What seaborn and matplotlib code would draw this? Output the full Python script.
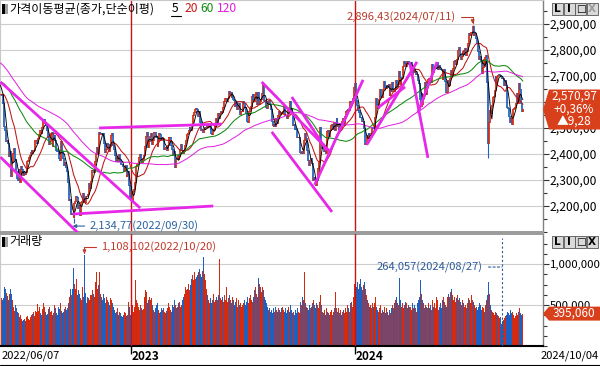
import numpy as np
import pandas as pd
import matplotlib
matplotlib.use("Agg")
import matplotlib.pyplot as plt
from matplotlib.patches import Polygon, Rectangle
from matplotlib.lines import Line2D
from matplotlib.ticker import FuncFormatter, MultipleLocator
import seaborn as sns

# ---------------- data (daily closes) ----------------
# 120 sessions before the first visible day (only feed the moving averages)
pre_close = [
    3010, 3001, 2989, 2987, 3006, 3017, 2963, 2962, 2975, 2998, 3012, 3025, 3020, 2993, 2977,
    2989, 2944, 2953, 2907, 2954, 2927, 2927, 2973, 2962, 2921, 2890, 2864, 2842, 2834, 2792, 2799, 2720, 2709, 2614, 2663,
    2705, 2757, 2750, 2745, 2768, 2771, 2747, 2704, 2676, 2729, 2676, 2744, 2743, 2705, 2743, 2706, 2719, 2648, 2676, 2699,
    2703, 2680, 2713, 2651, 2622, 2680, 2661, 2645, 2621, 2658, 2694, 2708, 2686, 2729, 2736, 2710, 2730, 2741, 2746, 2745, 2757,
    2739, 2759, 2757, 2735, 2700, 2693, 2666, 2667, 2716, 2718, 2696, 2718, 2728, 2704, 2657, 2668, 2639, 2639, 2667, 2695, 2668,
    2687, 2680, 2677, 2644, 2610, 2596, 2592, 2550, 2592, 2604, 2620, 2625, 2640, 2639, 2647, 2617, 2639, 2612, 2638, 2686, 2685,
    2658, 2670,
]
close_2022 = [
    2626, 2626, 2625, 2595, 2504, 2492, 2447, 2451, 2440, 2391, 2408, 2342, 2314, 2366, 2401, 2422, 2377, 2332,
    2305, 2300, 2341, 2292, 2334, 2350, 2340, 2317, 2328, 2322, 2330, 2370, 2375, 2386, 2393, 2404, 2415, 2403, 2409, 2415, 2451,
    2452, 2439, 2461, 2473, 2491, 2490, 2480, 2503, 2523, 2533, 2516, 2508, 2492, 2462, 2435, 2447, 2477, 2481, 2427, 2450, 2472, 2451,
    2415, 2410, 2409, 2384, 2376, 2449, 2411, 2401, 2382, 2355, 2367, 2347, 2332, 2290, 2220, 2223, 2169, 2170, 2167, 2155,
    2209, 2216, 2238, 2232, 2192, 2202, 2162, 2212, 2219, 2249, 2237, 2218, 2213, 2236, 2235, 2245, 2288, 2268, 2293,
    2335, 2337, 2329, 2348, 2371, 2399, 2424, 2402, 2483, 2474, 2480, 2478, 2477, 2442, 2419, 2405, 2418, 2441, 2437, 2408, 2433, 2472,
    2479, 2434, 2419, 2393, 2382, 2371, 2389, 2373, 2399, 2373, 2361, 2360, 2352, 2333, 2349, 2356, 2313, 2318, 2332, 2280, 2236,
]
close_2023 = [
    2225, 2219, 2256, 2264, 2289, 2350, 2351, 2360, 2365, 2386, 2399, 2379, 2368, 2380, 2395, 2428, 2468, 2484, 2450, 2425,
    2449, 2468, 2480, 2438, 2452, 2481, 2483, 2469, 2465, 2427, 2452, 2478, 2475, 2451, 2455, 2459, 2417, 2421, 2423, 2412,
    2432, 2462, 2463, 2464, 2431, 2419, 2394, 2410, 2348, 2379, 2377, 2395, 2379, 2389, 2416, 2436, 2414, 2400, 2409, 2434, 2453, 2476,
    2479, 2490, 2500, 2495, 2490, 2512, 2547, 2561, 2571, 2575, 2571, 2544, 2563, 2544, 2523, 2489, 2495, 2484, 2495, 2501,
    2500, 2508, 2501, 2510, 2512, 2496, 2479, 2475, 2491, 2494, 2515, 2537, 2517, 2557, 2537, 2554, 2559, 2564, 2558, 2577,
    2601, 2615, 2615, 2601, 2615, 2641, 2629, 2637, 2619, 2625, 2609, 2604, 2582, 2600, 2570, 2582, 2593, 2550, 2564, 2564, 2564,
    2602, 2593, 2579, 2556, 2526, 2520, 2562, 2575, 2583, 2619, 2628, 2608, 2600, 2628, 2636, 2592, 2636, 2592, 2603, 2608, 2632,
    2667, 2616, 2605, 2602, 2580, 2573, 2601, 2605, 2591, 2570, 2525, 2508, 2504, 2515, 2505, 2537, 2519, 2546, 2562, 2552, 2561, 2556,
    2563, 2584, 2582, 2548, 2547, 2536, 2574, 2572, 2601, 2574, 2559, 2508, 2514, 2508, 2496, 2495, 2463, 2465, 2465,
    2405, 2403, 2408, 2402, 2450, 2479, 2456, 2460, 2415, 2375, 2357, 2375, 2383, 2363, 2299, 2310, 2302, 2278, 2277,
    2301, 2343, 2368, 2502, 2443, 2421, 2428, 2409, 2433, 2403, 2487, 2486, 2489, 2469, 2491, 2510, 2514, 2495, 2521, 2492, 2520, 2535,
    2505, 2515, 2494, 2517, 2493, 2525, 2535, 2510, 2544, 2563, 2566, 2569, 2562, 2568, 2600, 2599, 2602, 2613, 2655,
]
close_2024 = [
    2669, 2607, 2587, 2578, 2567, 2561, 2541, 2540, 2525, 2525, 2497, 2435, 2440, 2472, 2464, 2479, 2470, 2470, 2478, 2500, 2498, 2497,
    2542, 2615, 2591, 2576, 2610, 2620, 2649, 2620, 2617, 2649, 2680, 2657, 2653, 2664, 2654, 2667, 2625, 2647, 2642,
    2674, 2649, 2641, 2647, 2681, 2660, 2666, 2718, 2693, 2666, 2685, 2690, 2738, 2754, 2748, 2737, 2757, 2755, 2745, 2747,
    2747, 2753, 2706, 2742, 2714, 2717, 2705, 2706, 2681, 2670, 2609, 2584, 2634, 2592, 2629, 2623, 2675, 2628, 2656, 2687, 2692,
    2684, 2676, 2734, 2745, 2712, 2727, 2727, 2730, 2753, 2724, 2742, 2724, 2723, 2721, 2687, 2722, 2723, 2677, 2635, 2636,
    2682, 2662, 2689, 2722, 2701, 2705, 2728, 2754, 2758, 2744, 2763, 2797, 2808, 2784, 2764, 2774, 2792, 2784, 2797,
    2804, 2780, 2794, 2824, 2862, 2857, 2867, 2867, 2891, 2857, 2860, 2864, 2843, 2824, 2795, 2763, 2774, 2758, 2710, 2731, 2765, 2738, 2770,
    2777, 2676, 2441, 2522, 2568, 2556, 2588, 2618, 2622, 2644, 2697, 2674, 2697, 2701, 2707, 2701, 2698, 2689, 2689, 2662, 2674,
    2681, 2664, 2580, 2576, 2544, 2523, 2535, 2514, 2572, 2575, 2580, 2593, 2602, 2631, 2596, 2671, 2649, 2593,
    2561.69, 2570.97,
]
# daily volume in thousands of the displayed unit
volume_k_2022 = [
    620, 580, 560, 590, 720, 760, 700, 650, 610, 560, 630, 700, 640, 560, 470, 430, 500, 460,
    460, 420, 400, 350, 380, 330, 300, 320, 330, 310, 300, 350, 370, 330, 320, 350, 380, 390, 420, 360, 430,
    420, 450, 510, 430, 480, 400, 380, 450, 520, 470, 410, 380, 420, 390, 450, 470, 410, 430, 380, 400, 500, 460,
    400, 380, 420, 470, 450, 520, 430, 400, 410, 450, 470, 440, 460, 520, 560, 600, 690, 620, 700, 950,
    760, 700, 820, 620, 680, 600, 640, 580, 560, 720, 600, 1108.102, 650, 520, 600, 580, 560, 520, 620,
    620, 680, 640, 600, 780, 900, 700, 740, 900, 720, 640, 600, 560, 640, 580, 520, 600, 560, 540, 500, 580, 620,
    560, 520, 480, 440, 400, 420, 460, 380, 420, 400, 380, 360, 350, 380, 420, 400, 360, 380, 540, 480, 380,
]
volume_k_2023 = [
    360, 460, 500, 420, 480, 800, 560, 520, 480, 440, 500, 460, 420, 440, 450, 600, 680, 660, 520, 560,
    600, 560, 580, 500, 460, 440, 420, 460, 500, 520, 440, 400, 420, 460, 440, 420, 460, 420, 400, 430,
    460, 520, 480, 440, 420, 500, 480, 520, 560, 500, 460, 480, 520, 540, 480, 500, 560, 600, 640, 700, 720, 680,
    700, 760, 680, 740, 820, 860, 800, 900, 880, 820, 840, 860, 900, 940, 880, 840, 920, 1085, 880, 800,
    760, 700, 620, 560, 520, 580, 520, 560, 640, 540, 560, 520, 600, 560, 620, 1060, 580, 560, 600, 540,
    620, 560, 720, 600, 540, 580, 620, 560, 520, 600, 560, 500, 540, 580, 520, 480, 560, 500, 520, 480, 500,
    520, 560, 500, 540, 600, 560, 520, 580, 620, 560, 540, 600, 680, 720, 640, 600, 700, 830, 760, 720, 660,
    720, 680, 600, 560, 520, 480, 440, 500, 460, 420, 440, 400, 460, 420, 480, 440, 420, 460, 500, 440, 420, 460,
    480, 440, 420, 460, 400, 440, 480, 420, 460, 500, 440, 400, 420, 380, 440, 400, 460, 420, 400,
    620, 540, 500, 600, 560, 900, 520, 480, 460, 440, 500, 460, 420, 480, 520, 560, 500, 460, 520,
    500, 460, 540, 620, 500, 460, 420, 400, 440, 380, 460, 420, 400, 380, 420, 440, 400, 380, 420, 460, 660, 460,
    420, 460, 400, 440, 380, 420, 480, 440, 400, 460, 420, 500, 460, 420, 520, 540, 480, 460, 600,
]
volume_k_2024 = [
    760, 800, 720, 780, 700, 760, 820, 720, 680, 740, 960, 780, 700, 620, 560, 520, 480, 500, 460, 520, 480, 560,
    520, 600, 480, 440, 420, 460, 500, 400, 440, 420, 480, 440, 400, 460, 420, 380, 440, 400, 460,
    500, 460, 520, 480, 560, 600, 520, 500, 830, 560, 480, 520, 460, 500, 540, 480, 520, 460, 500, 480,
    480, 440, 520, 460, 500, 460, 480, 420, 520, 560, 600, 800, 640, 560, 520, 460, 500, 480, 440, 460, 520,
    460, 500, 440, 560, 480, 520, 460, 600, 560, 500, 440, 480, 520, 460, 560, 600, 540, 500, 480, 600,
    880, 640, 600, 660, 700, 620, 560, 600, 540, 580, 620, 560, 520, 580, 540, 500, 560, 520, 480,
    500, 460, 520, 580, 600, 560, 520, 620, 560, 540, 500, 460, 480, 440, 480, 520, 460, 500, 440, 480, 460, 420, 500,
    560, 620, 780, 640, 560, 500, 440, 420, 400, 380, 420, 400, 380, 360, 340, 350, 320, 264.057, 300, 320, 340,
    360, 380, 420, 400, 380, 440, 360, 400, 420, 380, 340, 360, 400, 380, 420, 460, 400, 380,
    420, 395.06,
]

year_labels = ["2023", "2024"]
year_start_days = [143, 388]
first_date_label = "2022/06/07"
last_date_label = "2024/10/04"
price_ticks = [2200, 2300, 2400, 2500, 2600, 2700, 2800, 2900]
volume_ticks = [500000, 1000000]
ma_windows = [5, 20, 60, 120]

high_day, high_value, high_label = 517, 2896.43, "2,896,43(2024/07/11)"
low_day, low_value, low_label = 80, 2134.77, "2,134,77(2022/09/30)"
wick_day, wick_low = 534, 2386.09
maxvol_day, maxvol_label = 92, "1,108,102(2022/10/20)"
minvol_day, minvol_label = 549, "264,057(2024/08/27)"
last_tag = ["2,570,97", "+0,36%", "▲9,28"]
last_vol_tag = "395,060"

# user-drawn trend lines: (day0, price0, day1, price1)
trend_lines = [
    (0, 2677, 153, 2192),
    (0, 2388, 85, 2096),
    (79, 2169, 233, 2200),
    (108, 2500, 242, 2515),
    (286, 2677, 361, 2408),
    (297, 2485, 363, 2177),
    (319, 2619, 357, 2415),
    (344, 2281, 397, 2685),
    (401, 2435, 456, 2754),
    (413, 2577, 443, 2658),
    (448, 2754, 468, 2385),
    (457, 2558, 478, 2754),
]

# ---------------- preparation ----------------
close_all = np.array(pre_close + close_2022 + close_2023 + close_2024, dtype=float)
n_pre = len(pre_close)
closes = close_all[n_pre:]
prev = close_all[n_pre - 1:-1]
vol = np.array(volume_k_2022 + volume_k_2023 + volume_k_2024, dtype=float) * 1000
assert len(closes) == len(vol), (len(closes), len(vol))
n = len(closes)
days = np.arange(n)
up = closes >= prev

df = pd.DataFrame({"day": days, "close": closes})
for w in ma_windows:
    df[f"ma{w}"] = pd.Series(close_all).rolling(w).mean().values[n_pre:]

# ---------------- style ----------------
sns.set_theme(style="white")
plt.rcParams["font.family"] = ["Noto Sans CJK KR", "DejaVu Sans"]
plt.rcParams["axes.unicode_minus"] = False

RED = "#d42a10"
BLUE = "#1f5fbf"
MA_COLORS = ["#000000", "#c01515", "#108a10", "#e01ee0"]
MA_LW = [0.65, 0.75, 0.75, 0.7]
TREND = "#e828e8"

W, H = 600, 366
fig = plt.figure(figsize=(W / 100, H / 100), dpi=100)
fig.patch.set_facecolor("white")


def fx(x):
    return x / W


def fy(y):
    return 1 - y / H


axp = fig.add_axes([0, fy(232), fx(543), 232 / H])
axv = fig.add_axes([0, fy(346), fx(543), 112 / H])
XL = (-0.5, 594)

# ---------------- price panel ----------------
axp.set_xlim(*XL)
axp.set_ylim(2100, 2992)
for t in price_ticks:
    axp.axhline(t, color="#cdcdcd", lw=0.8, zorder=0)
for d in year_start_days:
    axp.axvline(d, color="#d01010", lw=1.0, zorder=1)

cols = np.where(up, RED, BLUE)
axp.vlines(days, np.minimum(prev, closes) - 2, np.maximum(prev, closes) + 2, colors=cols, lw=1.25, zorder=2)
axp.vlines([low_day], low_value, closes[low_day], colors=BLUE, lw=0.8, zorder=2)
axp.vlines([wick_day], wick_low, closes[wick_day], colors=BLUE, lw=0.8, zorder=2)
axp.vlines([high_day], closes[high_day], high_value, colors=RED, lw=0.8, zorder=2)

for w, c, lw in zip(ma_windows, MA_COLORS, MA_LW):
    sns.lineplot(data=df, x="day", y=f"ma{w}", ax=axp, color=c, lw=lw,
                 estimator=None, zorder=3 if w != 5 else 3.5)

for d0, p0, d1, p1 in trend_lines:
    axp.plot([d0, d1], [p0, p1], color=TREND, lw=2.0, solid_capstyle="butt", zorder=4)

axp.set_xlabel("")
axp.set_ylabel("")
axp.set_xticks([])
axp.yaxis.tick_right()
axp.set_yticks(price_ticks)
axp.yaxis.set_minor_locator(MultipleLocator(50))
# labels hidden behind the last-price tag are left blank
axp.yaxis.set_major_formatter(FuncFormatter(
    lambda v, _: "" if abs(v - closes[-1]) < 40 else f"{v:,.2f}".replace(".", ",")))
axp.tick_params(axis="y", which="major", right=True, left=False, length=4, width=0.8,
                color="#333333", pad=1, labelsize=8.7, labelcolor="black", direction="out")
axp.tick_params(axis="y", which="minor", right=True, left=False, length=3, width=0.8,
                color="#333333", direction="out")
for s in ["left", "top"]:
    axp.spines[s].set_color("#c8c8c8")
    axp.spines[s].set_linewidth(0.8)
axp.spines["right"].set_color("#808080")
axp.spines["right"].set_linewidth(1.0)
axp.spines["bottom"].set_color("#9a9a9a")
axp.spines["bottom"].set_linewidth(1.4)

axp.annotate(high_label, xy=(high_day, high_value + 4), xytext=(-12, 5), textcoords="offset points",
             ha="right", va="center", fontsize=8, color="#b83c2a",
             arrowprops=dict(arrowstyle="-|>", color="#b83c2a", lw=0.8, mutation_scale=5,
                             connectionstyle="angle,angleA=0,angleB=90,rad=0", shrinkA=1, shrinkB=0))
axp.annotate(low_label, xy=(low_day - 1, low_value - 12), xytext=(12, 0), textcoords="offset points",
             ha="left", va="center", fontsize=8, color="#2a64a0",
             arrowprops=dict(arrowstyle="-|>", color="#2a64a0", lw=0.8, mutation_scale=5,
                             shrinkA=1, shrinkB=0))

# ---------------- volume panel ----------------
axv.set_xlim(*XL)
axv.set_ylim(0, 1.366e6)
for t in volume_ticks:
    axv.axhline(t, color="#cdcdcd", lw=0.8, zorder=0)
for d in year_start_days:
    axv.axvline(d, color="#d01010", lw=1.0, zorder=3)
axv.bar(days, vol, width=1.0, color=cols, linewidth=0, zorder=2)

axv.yaxis.tick_right()
axv.set_yticks(volume_ticks)
axv.yaxis.set_minor_locator(MultipleLocator(125000))
axv.yaxis.set_major_formatter(FuncFormatter(lambda v, _: f"{int(v):,}"))
axv.tick_params(axis="y", which="major", right=True, left=False, length=4, width=0.8,
                color="#333333", pad=1, labelsize=8.2, labelcolor="black", direction="out")
axv.tick_params(axis="y", which="minor", right=True, left=False, length=3, width=0.8,
                color="#333333", direction="out")
axv.set_xticks(year_start_days)
axv.tick_params(axis="x", which="major", bottom=True, length=6, width=1.0, color="black",
                labelbottom=False, direction="out")
axv.spines["left"].set_color("#c8c8c8")
axv.spines["left"].set_linewidth(0.8)
axv.spines["top"].set_color("#9a9a9a")
axv.spines["top"].set_linewidth(1.4)
axv.spines["right"].set_color("#808080")
axv.spines["right"].set_linewidth(1.0)
axv.spines["bottom"].set_color("black")
axv.spines["bottom"].set_linewidth(1.5)

axv.annotate(maxvol_label, xy=(maxvol_day, vol[maxvol_day] + 15000), xytext=(12, 5),
             textcoords="offset points", ha="left", va="center", fontsize=8, color="#c0392b",
             arrowprops=dict(arrowstyle="-|>", color="#c0392b", lw=0.8, mutation_scale=5,
                             connectionstyle="angle,angleA=0,angleB=90,rad=0", shrinkA=1, shrinkB=0))
axv.vlines([minvol_day], 0, 1.32e6, colors="#2a5a9a", lw=0.8, linestyles=(0, (2, 2)), zorder=3)
axv.annotate(minvol_label, xy=(minvol_day, 9.63e5), xytext=(-14, 0), textcoords="offset points",
             ha="right", va="center", fontsize=8, color="#2a5a9a",
             arrowprops=dict(arrowstyle="-", color="#2a5a9a", lw=0.8, linestyle=(0, (2, 2)),
                             shrinkA=2, shrinkB=0))

# ---------------- header texts ----------------
for ytop in (4, 237):
    fig.add_artist(Rectangle((fx(2), fy(ytop + 10)), fx(4), 10 / H, transform=fig.transFigure,
                             facecolor="black", edgecolor="none"))
    fig.add_artist(Rectangle((fx(5), fy(ytop + 10)), fx(3), 10 / H, transform=fig.transFigure,
                             facecolor="#a0a0a0", edgecolor="none"))
fig.text(fx(9), fy(9), "가격이동평균(종가,단순이평)", fontsize=8.7, va="center", ha="left", color="black")
fig.text(fx(172), fy(9), "5", fontsize=8.7, va="center", ha="left", color="black")
fig.add_artist(Line2D([fx(171), fx(181)], [fy(16), fy(16)], transform=fig.transFigure, color="black", lw=0.8))
fig.text(fx(184), fy(9), "20", fontsize=8.7, va="center", ha="left", color="#c81818")
fig.text(fx(200), fy(9), "60", fontsize=8.7, va="center", ha="left", color="#108a10")
fig.text(fx(217), fy(9), "120", fontsize=8.7, va="center", ha="left", color="#e01ee0")
fig.text(fx(9), fy(242), "거래량", fontsize=8.7, va="center", ha="left", color="black")

# window buttons
for ytop in (3, 236):
    for i, g in enumerate(["L", "I", "□", "X"]):
        x0 = 552 + i * 11.5
        fig.add_artist(Rectangle((fx(x0), fy(ytop + 12)), fx(11), 12 / H, transform=fig.transFigure,
                                 facecolor="#d9d9d9", edgecolor="#555555", lw=0.6))
        gc = "#9a9a9a" if (g == "X" and ytop == 3) else "black"
        fig.text(fx(x0 + 5.5), fy(ytop + 6), g, fontsize=7.5, ha="center", va="center",
                 color=gc, fontweight="bold", family=["DejaVu Sans"])

# ---------------- value tags ----------------
fig.canvas.draw()
xr = axp.transAxes.transform((1, 0))[0]
ty = axp.transData.transform((0, closes[-1]))[1]
hh = 20
poly = Polygon([(xr, ty), (xr + 6, ty + hh), (W, ty + hh), (W, ty - hh), (xr + 6, ty - hh)],
               closed=True, transform=None, facecolor="#d8401c", edgecolor="none", zorder=10)
fig.add_artist(poly)
fig.text(fx(574), ty / H, "\n".join(last_tag), fontsize=8.5, color="white", ha="center", va="center",
         linespacing=1.0, zorder=11)

tyv = axv.transData.transform((0, vol[-1]))[1]
hv = 7
polyv = Polygon([(xr, tyv), (xr + 6, tyv + hv), (W, tyv + hv), (W, tyv - hv), (xr + 6, tyv - hv)],
                closed=True, transform=None, facecolor="#d8401c", edgecolor="none", zorder=10)
fig.add_artist(polyv)
fig.text(fx(574), tyv / H, last_vol_tag, fontsize=8.5, color="white", ha="center", va="center", zorder=11)

# ---------------- bottom date strip ----------------
fig.text(fx(2), fy(356), first_date_label, fontsize=8, ha="left", va="center", color="black")
for lab, d in zip(year_labels, year_start_days):
    xd = axv.transData.transform((d, 0))[0]
    fig.text((xd + 1) / W, fy(356), lab, fontsize=8.5, ha="left", va="center",
             color="black", fontweight="bold")
fig.text(fx(599), fy(356), last_date_label, fontsize=8, ha="right", va="center", color="black")
fig.add_artist(Line2D([0, 1], [fy(364.5), fy(364.5)], transform=fig.transFigure, color="black", lw=0.8))

fig.savefig("out.png", dpi=100)
